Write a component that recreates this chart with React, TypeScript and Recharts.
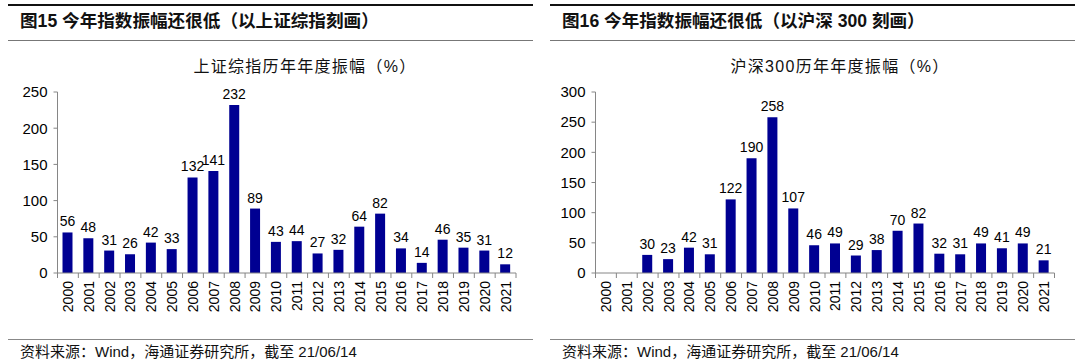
import React from 'react';
import { BarChart, Bar, XAxis, YAxis, LabelList } from 'recharts';

const years = ['2000','2001','2002','2003','2004','2005','2006','2007','2008','2009','2010','2011','2012','2013','2014','2015','2016','2017','2018','2019','2020','2021'];
const shValues: (number | null)[] = [56,48,31,26,42,33,132,141,232,89,43,44,27,32,64,82,34,14,46,35,31,12];
const hsValues: (number | null)[] = [null,null,30,23,42,31,122,190,258,107,46,49,29,38,70,82,32,31,49,41,49,21];
const shTicks = [0,50,100,150,200,250];
const hsTicks = [0,50,100,150,200,250,300];

const shData = years.map((y, i) => ({ year: y, v: shValues[i] }));
const hsData = years.map((y, i) => ({ year: y, v: hsValues[i] }));

const NUM_FONT = "'Liberation Sans', Arial, 'Noto Sans CJK SC', sans-serif";
const CJK_FONT = "'Liberation Sans', Arial, 'Noto Sans CJK SC', sans-serif";
const BAR_COLOR = '#000092';
const AXIS_COLOR = '#868686';

const XTick = (props: any) => {
  const { x, y, payload, index, bw, n } = props;
  const ty = y + 8;
  return (
    <g>
      <line x1={x - bw / 2} x2={x - bw / 2} y1={y} y2={y + 5} stroke={AXIS_COLOR} />
      {index === n - 1 && <line x1={x + bw / 2} x2={x + bw / 2} y1={y} y2={y + 5} stroke={AXIS_COLOR} />}
      <text
        x={x}
        y={ty}
        transform={`rotate(-90 ${x} ${ty})`}
        textAnchor="end"
        dominantBaseline="central"
        fontSize={14}
        fontFamily={NUM_FONT}
        fill="#000"
      >
        {payload.value}
      </text>
    </g>
  );
};

const labelFmt = (v: any) => (v === null || v === undefined ? '' : String(v));

type PanelProps = {
  left: number;
  title: string;
  subtitle: string;
  data: any[];
  ticks: number[];
  max: number;
  axisX: number;
  plotRight: number;
  subtitleX: number;
};

const Panel = ({ left, title, subtitle, data, ticks, max, axisX, plotRight, subtitleX }: PanelProps) => {
  const W = 540;
  const H = 330;
  const plotTop = 92;
  const plotBottom = 273;
  const yAxisW = 45;
  const xAxisH = 45;
  const bw = (plotRight - axisX) / data.length;
  return (
    <div style={{ position: 'absolute', left, top: 0, width: W, height: 363 }}>
      <div style={{ position: 'absolute', left: 8, top: 4, width: 525, height: 2, background: '#111' }} />
      <div
        style={{
          position: 'absolute', left: 20, top: 10, height: 22, lineHeight: '22px',
          fontFamily: CJK_FONT, fontWeight: 'bold', fontSize: 17.6, color: '#111', whiteSpace: 'nowrap',
        }}
      >
        {title}
      </div>
      <div style={{ position: 'absolute', left: 8, top: 40, width: 525, height: 1, background: '#777' }} />
      <div
        style={{
          position: 'absolute', left: subtitleX - 150, top: 56, width: 300, textAlign: 'center', height: 22,
          lineHeight: '22px', fontFamily: CJK_FONT, fontSize: 16, letterSpacing: 1.3, color: '#111', whiteSpace: 'nowrap',
        }}
      >
        {subtitle}
      </div>
      <div style={{ position: 'absolute', left: 0, top: 0 }}>
        <BarChart
          width={W}
          height={H}
          data={data}
          margin={{ top: plotTop, right: W - plotRight, bottom: H - plotBottom - xAxisH, left: axisX - yAxisW }}
        >
          <XAxis
            dataKey="year"
            interval={0}
            tickSize={0}
            tickMargin={0}
            height={xAxisH}
            stroke={AXIS_COLOR}
            tick={(p: any) => <XTick {...p} bw={bw} n={data.length} />}
          />
          <YAxis
            domain={[0, max]}
            ticks={ticks}
            interval={0}
            width={yAxisW}
            tickSize={4}
            tickMargin={6}
            stroke={AXIS_COLOR}
            tick={{ fill: '#000', fontSize: 15, fontFamily: NUM_FONT }}
          />
          <Bar dataKey="v" fill={BAR_COLOR} barSize={10} isAnimationActive={false}>
            <LabelList dataKey="v" position="top" offset={6} formatter={labelFmt} fill="#000" fontSize={14} fontFamily={NUM_FONT} />
          </Bar>
        </BarChart>
      </div>
      <div style={{ position: 'absolute', left: 8, top: 339, width: 525, height: 1, background: '#888' }} />
      <div
        style={{
          position: 'absolute', left: 20, top: 342, height: 19, lineHeight: '19px',
          fontFamily: CJK_FONT, fontSize: 15, color: '#111', whiteSpace: 'nowrap',
        }}
      >
        资料来源：Wind，海通证券研究所，截至 21/06/14
      </div>
    </div>
  );
};

export default function App() {
  return (
    <div style={{ position: 'absolute', left: 0, top: 0, width: 1080, height: 363, background: '#fff', overflow: 'hidden' }}>
      <Panel
        left={0}
        title="图15 今年指数振幅还很低（以上证综指刻画）"
        subtitle="上证综指历年年度振幅（%）"
        data={shData}
        ticks={shTicks}
        max={250}
        axisX={57.5}
        plotRight={516}
        subtitleX={305}
      />
      <Panel
        left={542}
        title="图16 今年指数振幅还很低（以沪深 300 刻画）"
        subtitle="沪深300历年年度振幅（%）"
        data={hsData}
        ticks={hsTicks}
        max={300}
        axisX={53.5}
        plotRight={512.5}
        subtitleX={298}
      />
    </div>
  );
}
